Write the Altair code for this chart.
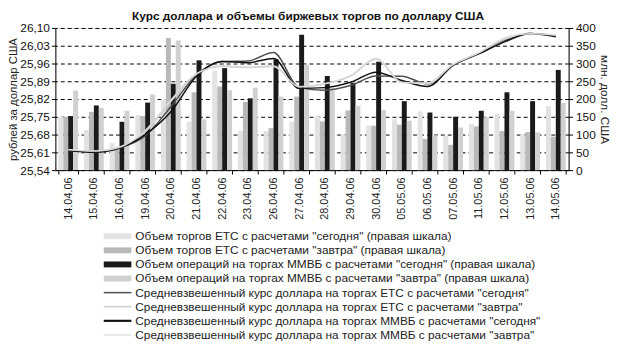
import altair as alt
import pandas as pd

dates = ["14.04.06", "15.04.06", "16.04.06", "19.04.06", "20.04.06", "21.04.06",
         "22.04.06", "23.04.06", "26.04.06", "27.04.06", "28.04.06", "29.04.06",
         "30.04.06", "05.05.06", "06.05.06", "07.05.06", "11.05.06", "12.05.06",
         "13.05.06", "14.05.06"]

bar_names = [
    "Объем торгов ЕТС с расчетами \"сегодня\" (правая шкала)",
    "Объем торгов ЕТС с расчетами \"завтра\" (правая шкала)",
    "Объем операций на торгах ММВБ с расчетами \"сегодня\" (правая шкала)",
    "Объем операций на торгах ММВБ с расчетами \"завтра\" (правая шкала)",
]
line_names = [
    "Средневзвешенный курс доллара на торгах ЕТС с расчетами \"сегодня\"",
    "Средневзвешенный курс доллара на торгах ЕТС с расчетами \"завтра\"",
    "Средневзвешенный курс доллара на торгах ММВБ с расчетами \"сегодня\"",
    "Средневзвешенный курс доллара на торгах ММВБ с расчетами \"завтра\"",
]

# volumes, mln USD (right scale)
etc_today_vol = [150, 113, 76, 155, 200, 136, 280, 110, 110, 136, 150, 100, 125, 143, 165, 96, 130, 159, 99, 180]
etc_tom_vol = [150, 164, 62, 152, 372, 219, 235, 192, 118, 207, 137, 168, 125, 128, 88, 71, 123, 110, 107, 94]
mmvb_today_vol = [152, 182, 136, 190, 243, 309, 287, 202, 312, 381, 265, 245, 305, 194, 162, 150, 167, 219, 194, 282]
mmvb_tom_vol = [224, 175, 167, 213, 365, 143, 225, 232, 207, 297, 230, 181, 169, 139, 98, 120, 149, 167, 106, 189]

# weighted average rates, RUB per USD (left scale)
etc_today_rate = [25.617, 25.612, 25.628, 25.675, 25.79, 25.915, 25.968, 25.97, 26.003, 25.865,
                  25.855, 25.873, 25.911, 25.91, 25.88, 25.955, 26.0, 26.05, 26.078, 26.07]
etc_tom_rate = [25.62, 25.613, 25.63, 25.69, 25.81, 25.918, 25.95, 25.945, 25.95, 25.868,
                25.88, 25.91, 25.978, 25.887, 25.882, 25.955, 26.0, 26.055, 26.075, 26.07]
mmvb_today_rate = [25.617, 25.61, 25.627, 25.68, 25.77, 25.91, 25.968, 25.963, 25.98, 25.862,
                   25.865, 25.886, 25.926, 25.893, 25.869, 25.953, 25.998, 26.045, 26.078, 26.065]
mmvb_tom_rate = [25.62, 25.615, 25.63, 25.695, 25.815, 25.92, 25.948, 25.944, 25.948, 25.868,
                 25.88, 25.912, 25.98, 25.885, 25.882, 25.956, 26.002, 26.06, 26.077, 26.072]

left_ticks = [25.54, 25.61, 25.68, 25.75, 25.82, 25.89, 25.96, 26.03, 26.10]
right_ticks = [0, 50, 100, 150, 200, 250, 300, 350, 400]

bar_colors = ["#e2e2e2", "#b9b9b9", "#1a1a1a", "#d0d0d0"]
line_colors = ["#505050", "#c6c6c6", "#111111", "#dadada"]
line_widths = [1.5, 1.5, 2.2, 2.5]

bar_rows = []
for name, vals in zip(bar_names, [etc_today_vol, etc_tom_vol, mmvb_today_vol, mmvb_tom_vol]):
    for i, d in enumerate(dates):
        bar_rows.append({"date": d, "bar_series": name, "volume": vals[i]})
bars_df = pd.DataFrame(bar_rows)

line_rows = []
for name, vals in zip(line_names, [etc_today_rate, etc_tom_rate, mmvb_today_rate, mmvb_tom_rate]):
    for i, d in enumerate(dates):
        line_rows.append({"date": d, "line_series": name, "rate": vals[i], "idx": i})
lines_df = pd.DataFrame(line_rows)

all_names = bar_names + line_names
legend_df = pd.DataFrame({
    "name": all_names,
    "swatch_color": bar_colors + line_colors,
    "swatch_width": [6, 6, 6, 6] + [1.5, 1.2, 2.2, 1.2],
})

FONT = "Liberation Sans"

x_enc = alt.X(
    "date:N", sort=dates,
    scale=alt.Scale(paddingInner=0.23, paddingOuter=0.115),
    axis=alt.Axis(title=None, labelAngle=270, tickBand="extent", labelFont=FONT,
                  labelFontSize=11, labelColor="#222", tickColor="#000", domainColor="#000",
                  tickSize=4, labelPadding=3, labelBaseline="middle"),
)

bars = alt.Chart(bars_df).mark_bar().encode(
    x=x_enc,
    xOffset=alt.XOffset("bar_series:N", sort=bar_names,
                        scale=alt.Scale(domain=bar_names, paddingInner=0, paddingOuter=0)),
    y=alt.Y("volume:Q",
            scale=alt.Scale(domain=[0, 400], nice=False, zero=True),
            axis=alt.Axis(orient="right", values=right_ticks, title="млн. долл. США",
                          grid=True, gridDash=[4, 3], gridColor="#000", gridWidth=1,
                          labelFont=FONT, labelFontSize=12, labelColor="#111",
                          titleFont=FONT, titleFontSize=12, titleFontWeight="normal",
                          titleColor="#222", tickColor="#000", domainColor="#000",
                          tickSize=4, labelPadding=3, titlePadding=2)),
    fill=alt.Fill("bar_series:N",
                  scale=alt.Scale(domain=bar_names, range=bar_colors),
                  legend=None),
)

lines = alt.Chart(lines_df).mark_line(interpolate="monotone").encode(
    x=x_enc,
    y=alt.Y("rate:Q",
            scale=alt.Scale(domain=[25.54, 26.10], nice=False, zero=False),
            axis=alt.Axis(orient="left", values=left_ticks, grid=False,
                          labelExpr="replace(format(datum.value, '.2f'), '.', ',')",
                          title="рублей за доллар США",
                          labelFont=FONT, labelFontSize=12, labelColor="#111",
                          titleFont=FONT, titleFontSize=11.5, titleFontWeight="normal",
                          titleColor="#222", tickColor="#000", domainColor="#000",
                          tickSize=4, labelPadding=2, titlePadding=1)),
    stroke=alt.Stroke("line_series:N",
                      scale=alt.Scale(domain=line_names, range=line_colors),
                      legend=None),
    strokeWidth=alt.StrokeWidth("line_series:N",
                                scale=alt.Scale(domain=line_names, range=line_widths),
                                legend=None),
    order=alt.Order("idx:Q"),
)

# manual legend below the plot (rows placed by a point scale)
legend_y = alt.Y("name:N", sort=all_names,
                 scale=alt.Scale(type="point", domain=all_names, range=[211, 311], padding=0),
                 axis=None)

legend_swatch = alt.Chart(legend_df).mark_rule().encode(
    x=alt.value(49), x2=alt.value(77),
    y=legend_y,
    color=alt.Color("swatch_color:N", scale=None, legend=None),
    strokeWidth=alt.StrokeWidth("swatch_width:Q", scale=None, legend=None),
)

legend_text = alt.Chart(legend_df).mark_text(
    align="left", baseline="middle", font=FONT, fontSize=12, color="#222"
).encode(
    x=alt.value(81),
    y=legend_y,
    text="name:N",
)

chart = alt.layer(bars, lines, legend_swatch, legend_text).resolve_scale(
    y="independent", color="independent", strokeWidth="independent"
).properties(
    width=520, height=144,
    title=alt.TitleParams("Курс доллара и объемы биржевых торгов по доллару США",
                          font=FONT, fontSize=12, fontWeight="bold", color="#111",
                          anchor="middle", offset=-1, dx=-4),
    autosize=alt.AutoSizeParams(type="none"),
    padding={"left": 48, "top": 18, "right": 48, "bottom": 178},
).configure_view(stroke="#000", strokeWidth=1).configure(background="white")

chart.save("out.html", embed_options={"renderer": "svg", "actions": False})
